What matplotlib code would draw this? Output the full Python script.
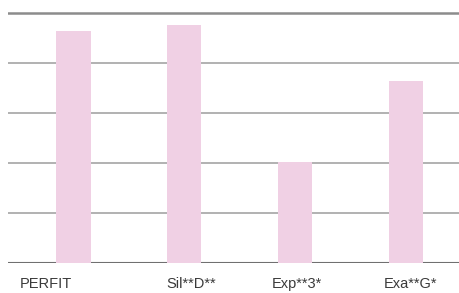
import matplotlib
matplotlib.use("Agg")
import matplotlib.pyplot as plt
import matplotlib.transforms as mtransforms
import numpy as np

categories = ["PERFIT", "Sil**D**", "Exp**3*", "Exa**G*"]
values = [4.64, 4.76, 2.03, 3.63]
y_ticks = [0, 1, 2, 3, 4, 5]

plt.rcParams["font.family"] = ["Liberation Sans", "DejaVu Sans"]

fig = plt.figure(figsize=(4.6, 2.93), dpi=100)
ax = fig.add_axes([8 / 460, 30 / 293, 1 - 8 / 460, 251 / 293])

x = np.arange(len(categories))
for yv in y_ticks:
    if yv == 5:
        col, lw = "#8c8c8c", 1.8
    elif yv == 0:
        col, lw = "#707070", 1.5
    else:
        col, lw = "#a4a4a4", 1.2
    ax.axhline(yv, color=col, linewidth=lw, zorder=1)

ax.bar(x, values, width=0.31, color="#f0d0e4", zorder=2)

ax.set_xlim(-0.59, 3.49)
ax.set_ylim(0, 5.02)
ax.set_xticks(x)
ax.set_xticklabels(categories, fontsize=10.5, color="#3a3a3a")
ax.tick_params(axis="x", length=0, pad=10)
ax.set_yticks([])
for s in ax.spines.values():
    s.set_visible(False)

# labels in the original sit a little off-centre
label_shift = [-27, 7, 2, 5]
for lbl, dx in zip(ax.get_xticklabels(), label_shift):
    lbl.set_transform(lbl.get_transform() +
                      mtransforms.ScaledTranslation(dx / 100, 0, fig.dpi_scale_trans))

fig.savefig("out.png", dpi=100)
